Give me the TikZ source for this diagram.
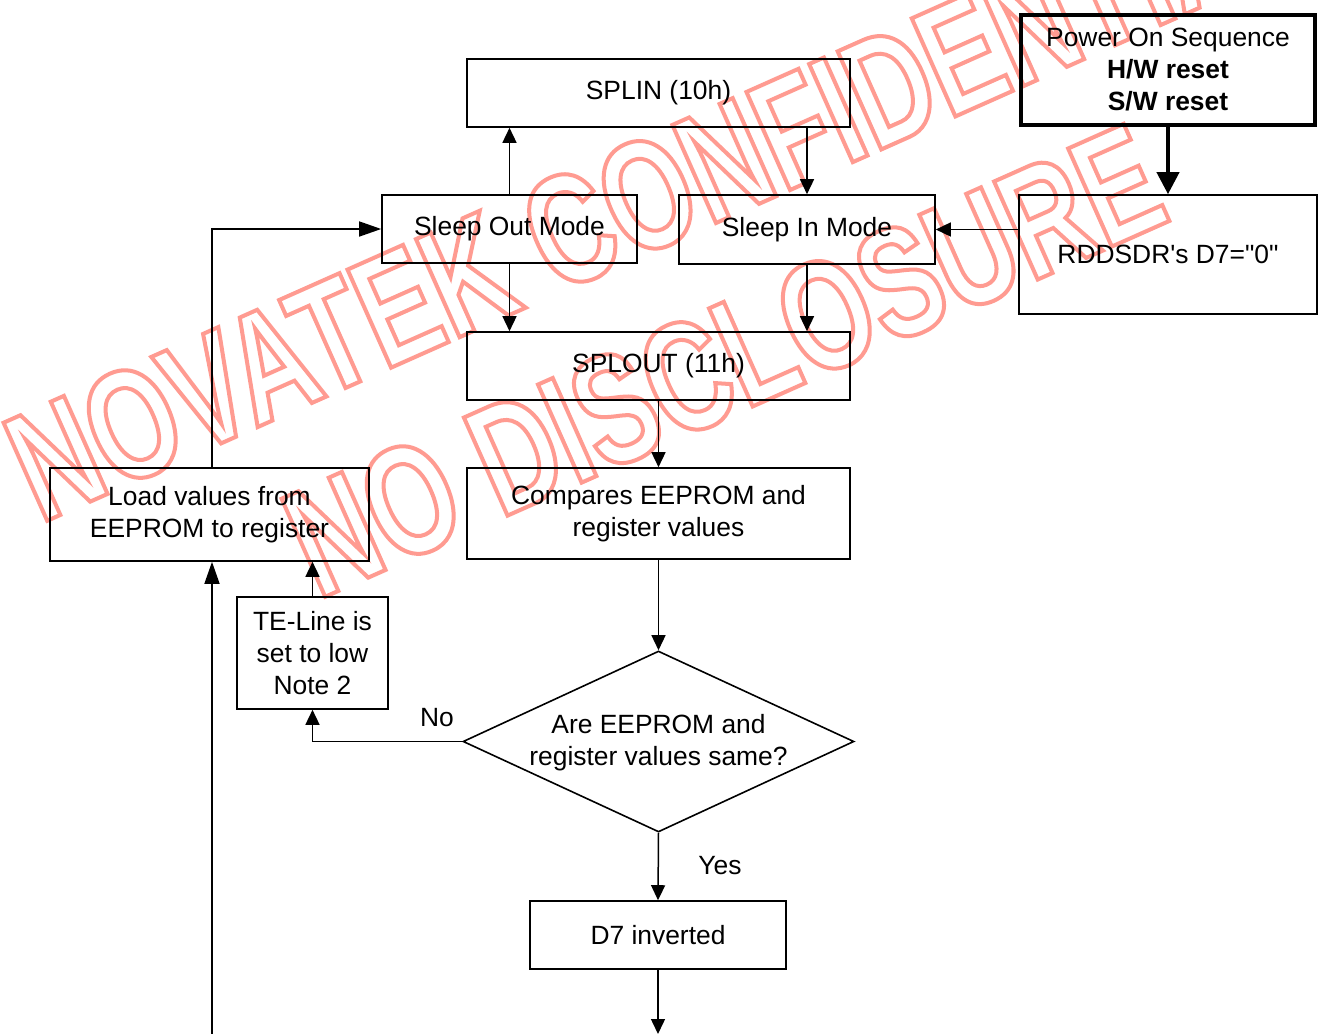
\documentclass[tikz,border=0pt]{standalone}
\usepackage{fontspec}
\setmainfont{Liberation Sans}[Ligatures=TeXOff]
\newfontfamily\wmfont[FakeStretch=0.72]{Liberation Sans}
\usetikzlibrary{arrows.meta,shapes.geometric}
\definecolor{wmred}{RGB}{255,155,145}
\tikzset{
  box/.style={draw, line width=0.8pt, inner sep=0pt, align=center},
  conn/.style={line width=0.75pt, -{Triangle[length=7.5pt,width=7pt]}},
  connlong/.style={line width=0.75pt, -{Triangle[length=11pt,width=7.5pt]}},
  connthick/.style={line width=2pt, -{Triangle[length=11pt,width=11pt]}},
  lbl/.style={inner sep=0pt},
  wm/.style={anchor=base west, inner sep=0pt, text=wmred, rotate=24,
    font=\wmfont\bfseries\fontsize{78}{78}\selectfont},
}
\newcommand{\outlinetext}[1]{\special{pdf:literal direct 1 Tr 2 w}#1\special{pdf:literal direct 0 Tr}}
\begin{document}
\begin{tikzpicture}[x=0.5pt, y=-0.5pt, font=\fontsize{13.2}{16}\selectfont]
\useasboundingbox (0,0) rectangle (1319,1034);
\fill[white] (0,0) rectangle (1319,1034);

% watermark
\node[wm] (wmA) at (40,524) {\outlinetext{NOVATEK CONFIDENTIAL}};
\node[wm] (wmB) at (318,600) {\outlinetext{NO DISCLOSURE}};

% boxes
\node[box, minimum width=191.5pt, minimum height=34pt] (splin) at (658.5,93) {SPLIN (10h)};
\node[box, minimum width=127.5pt, minimum height=34pt] (sout) at (509.5,229) {Sleep Out Mode};
\node[box, minimum width=128pt, minimum height=34.5pt] (sin) at (807,229.5) {Sleep In Mode};
\node[box, minimum width=191.5pt, minimum height=34pt] (splout) at (658.5,366) {SPLOUT (11h)};
\node[box, line width=2pt, minimum width=147pt, minimum height=55pt] (power) at (1168,70)
  {Power On Sequence\\\textbf{H/W reset}\\\textbf{S/W reset}};
\node[box, minimum width=149pt, minimum height=59.5pt] (rdd) at (1168,254.5) {RDDSDR's D7="0"};
\node[box, minimum width=191.5pt, minimum height=45.5pt] (comp) at (658.5,513.5)
  {Compares EEPROM and\\register values};
\node[box, minimum width=159.5pt, minimum height=46.5pt] (load) at (209.5,514.5)
  {Load values from\\EEPROM to register};
\node[box, minimum width=75.5pt, minimum height=56pt] (te) at (312.5,653)
  {TE-Line is\\set to low\\Note 2};
\node[draw, diamond, line width=0.8pt, inner sep=0pt, minimum width=195.5pt,
  minimum height=90.5pt] (dia) at (658.5,741.5) {};
\node[lbl, align=center] (diatext) at (658.5,742.5) {Are EEPROM and\\register values same?};
\node[box, minimum width=128pt, minimum height=34pt] (d7) at (658,935) {D7 inverted};
\node[lbl] (no) at (437,718) {No};
\node[lbl] (yes) at (720,866) {Yes};

\coordinate (bl) at (212,1034);
\coordinate (br) at (658,1034);

% connectors
\draw[connthick] (power.south) -- (rdd.north);
\draw[conn] (rdd.west |- sin.east) -- (sin.east);
\draw[conn] (sout.north) -- (sout.north |- splin.south);
\draw[conn] (sin.north |- splin.south) -- (sin.north);
\draw[conn] (sout.south) -- (sout.south |- splout.north);
\draw[conn] (sin.south) -- (sin.south |- splout.north);
\draw[conn] (splout.south) -- (comp.north);
\draw[conn] (comp.south) -- (dia.north);
\draw[conn] (dia.west) -- (te.south |- dia.west) -- (te.south);
\draw[conn] (te.north) -- (te.north |- load.south);
\draw[connlong] ([xshift=1.25pt]load.north) -- ([xshift=1.25pt]load.north |- sout.west) -- (sout.west);
\draw[connlong] (bl) -- (bl |- load.south);
\draw[conn] (dia.south) -- (d7.north);
\draw[conn] (d7.south) -- (br);
\end{tikzpicture}
\end{document}
